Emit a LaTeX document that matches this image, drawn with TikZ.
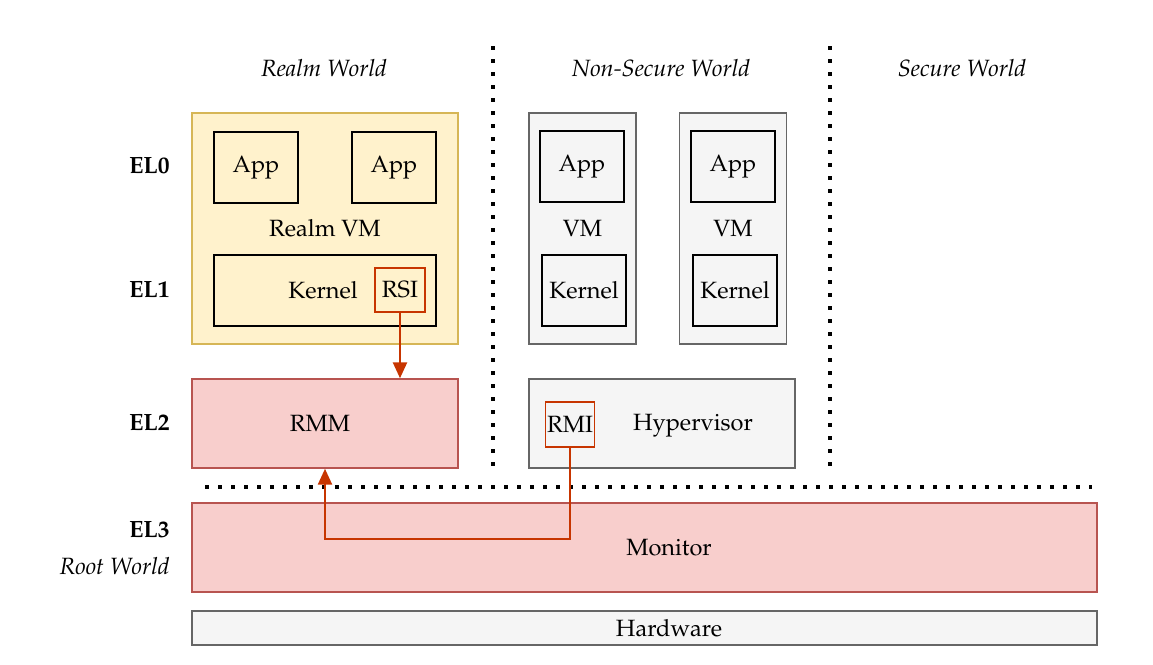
\documentclass[tikz,border=0pt]{standalone}
\usepackage[T1]{fontenc}
\usepackage{mathpazo}
\usepackage{tikz}
\usetikzlibrary{arrows.meta}

\definecolor{realmfill}{HTML}{FFF2CC}
\definecolor{realmdraw}{HTML}{D6B656}
\definecolor{rootfill}{HTML}{F8CECC}
\definecolor{rootdraw}{HTML}{B85450}
\definecolor{nsfill}{HTML}{F5F5F5}
\definecolor{nsdraw}{HTML}{666666}
\definecolor{callred}{HTML}{C73500}

\begin{document}
\begin{tikzpicture}[x=0.02cm,y=-0.02cm]
\tikzstyle{every node} = [font=\fontsize{13.4}{16}\selectfont,inner sep=0pt]
\tikzstyle{realm} = [draw=realmdraw,fill=realmfill,line width=0.9pt]
\tikzstyle{root} = [draw=rootdraw,fill=rootfill,line width=0.9pt]
\tikzstyle{ns} = [draw=nsdraw,fill=nsfill,line width=0.9pt]
\tikzstyle{inbox} = [draw=black,line width=1.1pt,minimum width=1.68cm,minimum height=1.42cm]
\tikzstyle{call} = [draw=callred,line width=0.9pt]
\tikzstyle{link} = [draw=callred,line width=1.1pt,-{Triangle[length=9pt,width=8pt]}]
\tikzstyle{sep} = [line width=2pt,dash pattern=on 2pt off 5.4pt]
\tikzstyle{lvl} = [anchor=east,font=\fontsize{13.4}{16}\selectfont\bfseries]

\useasboundingbox (0,0) rectangle (1153,664);

%%%%%% Worlds
\node (realmw) at (324,68) {\itshape Realm World};
\node (nsw) at (661,68) {\itshape Non-Secure World};
\node (secw) at (962,68) {\itshape Secure World};

\draw[sep] (493,46) -- (493,473);
\draw[sep] (830,46) -- (830,473);
\draw[sep] (205,487) -- (1092,487);

%%%%%% Exception levels
\node[lvl] (el0) at (170,166) {EL0};
\node[lvl] (el1) at (170,290) {EL1};
\node[lvl] (el2) at (170,423) {EL2};
\node[lvl] (el3) at (170,530) {EL3};
\node[anchor=east] (rootw) at (170,566) {\itshape Root World};

%%%%%% Realm VM
\node[realm,minimum width=5.32cm,minimum height=4.62cm] (rvm) at (325,228.5) {Realm VM};
\node[inbox] (rapp1) at (256,167.5) {App};
\node[inbox] (rapp2) at (394,167.5) {App};
\node[inbox,minimum width=4.44cm] (rkern) at (325,290.5) {};
\node (rkerntxt) at (323,290) {Kernel};
\node[call,minimum width=1cm,minimum height=0.88cm] (rsi) at (400,290) {RSI};

%%%%%% Non-Secure VMs
\node[ns,minimum width=2.14cm,minimum height=4.62cm] (vm1) at (582.5,228.5) {VM};
\node[inbox] (app1) at (582,166.5) {App};
\node[inbox] (kern1) at (584,290.5) {Kernel};

\node[ns,minimum width=2.14cm,minimum height=4.62cm] (vm2) at (733,228.5) {VM};
\node[inbox] (app2) at (733,166.5) {App};
\node[inbox] (kern2) at (735,290.5) {Kernel};

%%%%%% EL2
\node[root,minimum width=5.32cm,minimum height=1.78cm] (rmm) at (325,423.5) {};
\node (rmmtxt) at (320,423.5) {RMM};
\node[ns,minimum width=5.32cm,minimum height=1.78cm] (hyp) at (662,423.5) {};
\node (hyptxt) at (693,426) {Hypervisor};
\node[call,minimum width=0.98cm,minimum height=0.9cm] (rmi) at (570,424.5) {RMI};

%%%%%% EL3 + hardware
\node[root,minimum width=18.1cm,minimum height=1.78cm] (mon) at (644.5,547.5) {};
\node (montxt) at (669,548) {Monitor};
\node[ns,minimum width=18.1cm,minimum height=0.68cm] (hw) at (644.5,628) {};
\node (hwtxt) at (669,628) {Hardware};

%%%%%% Calls
\coordinate (turn) at (325,539);
\draw[link] (rsi.south) -- (rsi.south |- rmm.north);
\draw[link] (rmi.south) |- (turn) -- (rmm.south);
\end{tikzpicture}
\end{document}
